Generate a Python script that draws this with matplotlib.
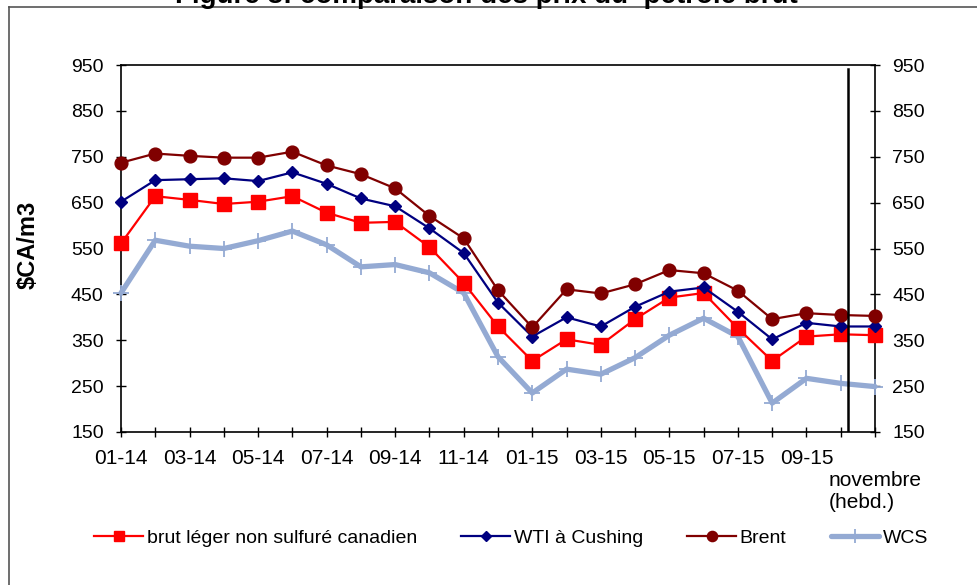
import matplotlib
matplotlib.use("Agg")
import matplotlib.pyplot as plt
from matplotlib.lines import Line2D
import numpy as np

plt.rcParams['font.family'] = ['Liberation Sans', 'DejaVu Sans']

# ---- data ----
categories = ["01-14", "02-14", "03-14", "04-14", "05-14", "06-14", "07-14", "08-14",
              "09-14", "10-14", "11-14", "12-14", "01-15", "02-15", "03-15", "04-15",
              "05-15", "06-15", "07-15", "08-15", "09-15", "10-15", "nov-15"]
tick_labels = ["01-14", "", "03-14", "", "05-14", "", "07-14", "", "09-14", "",
               "11-14", "", "01-15", "", "03-15", "", "05-15", "", "07-15", "",
               "09-15", "", "\nnovembre\n(hebd.)"]

brut_leger = [561, 664, 656, 647, 652, 664, 628, 606, 608, 553, 475, 380, 305,
              352, 340, 396, 443, 453, 376, 305, 358, 363, 361]
wti = [652, 699, 701, 703, 697, 716, 691, 659, 642, 594, 540, 432, 358,
       400, 380, 423, 456, 465, 412, 352, 388, 380, 380]
brent = [737, 757, 752, 748, 748, 761, 731, 712, 681, 621, 572, 459, 378,
         461, 452, 472, 503, 496, 458, 396, 409, 405, 403]
wcs = [453, 568, 555, 550, 567, 588, 558, 510, 515, 497, 453, 314, 235,
       287, 276, 312, 361, 398, 358, 213, 267, 256, 249]

series_names = ["brut léger non sulfuré canadien", "WTI à Cushing", "Brent", "WCS"]
y_ticks = [150, 250, 350, 450, 550, 650, 750, 850, 950]
weekly_separator = 21.22  # position (in category units) of the monthly/weekly separator
title = "Figure 8: comparaison des prix du  pétrole brut"
ylabel = "$CA/m3"

# ---- figure ----
W, H = 977, 585
fig = plt.figure(figsize=(W / 100, H / 100), dpi=100)
ax = fig.add_axes([121 / W, 1 - 432 / H, (875 - 121) / W, (432 - 65) / H])

x = np.arange(len(categories))
ax.plot(x, brut_leger, color='#FF0000', lw=1.6, marker='s', ms=9.8,
        mec='#FF0000', mfc='#FF0000', label=series_names[0], zorder=4, clip_on=False)
ax.plot(x, wti, color='#000080', lw=1.6, marker='D', ms=6.6,
        mec='#000080', mfc='#000080', label=series_names[1], zorder=5, clip_on=False)
ax.plot(x, brent, color='#800000', lw=1.6, marker='o', ms=9.2,
        mec='#800000', mfc='#800000', label=series_names[2], zorder=6, clip_on=False)
ax.plot(x, wcs, color='#94AAD3', lw=3.8, marker='+', ms=12, mew=1.3,
        mec='#94AAD3', label=series_names[3], zorder=3, solid_capstyle='round',
        clip_on=False)

ax.axvline(weekly_separator, ymin=0, ymax=0.989, color='black', lw=1.8, zorder=7)

ax.set_xlim(0, len(categories) - 1)
ax.set_ylim(y_ticks[0], y_ticks[-1])
ax.set_yticks(y_ticks)
ax.set_xticks(x)
ax.set_xticklabels(tick_labels)
for lbl in ax.get_xticklabels():
    lbl.set_multialignment('left')

for sp in ax.spines.values():
    sp.set_linewidth(1.2)
    sp.set_color('black')
    sp.set_zorder(2)

ax.tick_params(axis='both', direction='inout', length=7, width=1.0, colors='black')
ax.tick_params(axis='y', pad=9, right=True, labelright=True, labelsize=14)
ax.tick_params(axis='x', pad=9, labelsize=15)

ax.set_ylabel(ylabel, fontsize=17, fontweight='bold')
ax.yaxis.label.set_va('center')
ax.yaxis.set_label_coords((28 - 121) / (875 - 121), 0.51)

ax.legend(loc='center', bbox_to_anchor=(511.5 / W, 1 - 538 / H),
          bbox_transform=fig.transFigure, ncol=4, frameon=False, fontsize=14,
          handlelength=2.5, handletextpad=0.2, columnspacing=2.27, numpoints=1,
          markerscale=0.8)

# outer chart-area border (cropped on the right and bottom)
fig.add_artist(Line2D([9 / W, 1], [1 - 7 / H, 1 - 7 / H], transform=fig.transFigure,
                      color='#555555', lw=1.2))
fig.add_artist(Line2D([9 / W, 9 / W], [0, 1 - 7 / H], transform=fig.transFigure,
                      color='#555555', lw=1.2))

fig.text(486 / W, 1 - 3 / H, title, ha='center', va='baseline', fontsize=20,
         fontweight='bold')

fig.savefig("out.png", dpi=100, facecolor='white')
